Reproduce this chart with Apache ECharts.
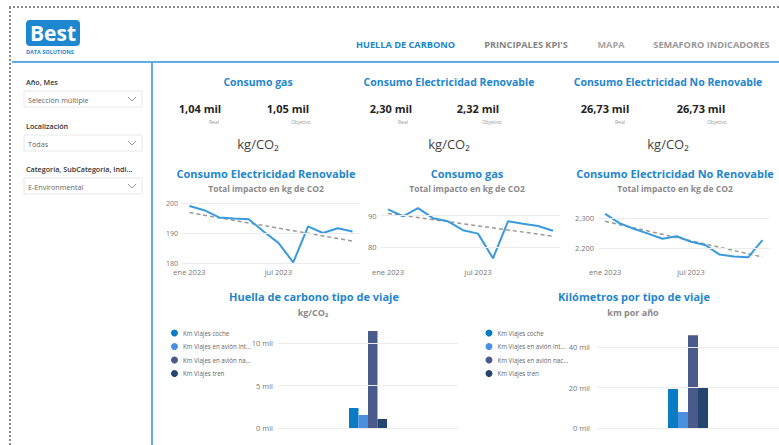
<!DOCTYPE html>
<html><head><meta charset="utf-8">
<script src="https://cdn.jsdelivr.net/npm/echarts@6/dist/echarts.min.js"></script>
<style>html,body{margin:0;padding:0;background:#fff}#c{width:779px;height:445px}</style>
</head><body><div id="c"></div>
<script>
// ---------- data ----------
const months = ['ene 2023','feb 2023','mar 2023','abr 2023','may 2023','jun 2023','jul 2023','ago 2023','sep 2023','oct 2023','nov 2023','dic 2023'];
const xTicks = ['ene 2023','jul 2023'];
const elecRenov = [199.0,197.6,195.2,194.8,194.6,190.5,186.7,180.2,192.2,190.0,191.6,190.5];
const elecRenovTrend = [196.8,187.3];
const elecRenovTicks = [180,190,200];
const gas = [92.0,89.8,92.4,89.2,88.2,85.4,84.3,76.5,88.2,87.4,86.7,85.2];
const gasTrend = [90.7,83.5];
const gasTicks = [80,90];
const elecNoRenov = [2314,2283,2264,2248,2231,2239,2221,2210,2178,2172,2169,2226];
const elecNoRenovTrend = [2289,2170];
const elecNoRenovTicks = [2200,2300];
const tripTypes = ['Km Viajes coche','Km Viajes en avión internacional','Km Viajes en avión nacional','Km Viajes tren'];
const huella = [2350,1530,11400,1060];
const huellaTicks = [0,5000,10000];
const km = [19300,7900,45900,19800];
const kmTicks = [0,20000,40000];
const kpiTitles = ['Consumo gas','Consumo Electricidad Renovable','Consumo Electricidad No Renovable'];
const kpiReal = [1.04,2.30,26.73];      // miles
const kpiTarget = [1.05,2.32,26.73];    // miles
const navItems = ['HUELLA DE CARBONO',"PRINCIPALES KPI'S",'MAPA','SEMAFORO INDICADORES'];
const filterLabels = ['Año, Mes','Localización','Categoría, SubCategoría, Indi...'];
const filterValues = ['Selección múltiple','Todas','E-Environmental'];

// ---------- styling ----------
const FF = '"Open Sans", "Noto Sans", sans-serif';
const BLUE = '#1F86CD';
const LINE = '#3A9BDC';
const tripColors = ['#0A7CC4','#4A8FE0','#4A5A8A','#23456E'];
const fmtThousands = v => String(v).replace(/\B(?=(\d{3})+(?!\d))/g,'.');
const fmtMil = v => v.toFixed(2).replace('.',',') + ' mil';

function T(text, x, y, size, color, weight, align) {
  return {type:'text', silent:true, style:{text, x, y, fill:color, fontSize:size, fontWeight:weight||'normal', fontFamily:FF, align:align||'center', verticalAlign:'middle'}};
}
function L(x1,y1,x2,y2,color,w,dash) {
  return {type:'line', silent:true, shape:{x1,y1,x2,y2}, style:{stroke:color, lineWidth:w, lineDash:dash||null}};
}

const g = [];
// frame
g.push(L(9,7,779,7,'#8a8a8a',2,[2,2]));
g.push(L(10,7,10,445,'#8a8a8a',2,[2,2]));
g.push(L(12,62,779,62,'#5DADE2',2));
g.push(L(152,62,152,445,'#5DADE2',2));
// logo
g.push({type:'rect', silent:true, shape:{x:26,y:20,width:54,height:26,r:4}, style:{fill:'#1D87CF'}});
g.push(T('Best',53,33,21,'#fff','bold'));
g.push(T('DATA SOLUTIONS',26,52,5.5,'#1D87CF','bold','left'));
// nav
const navX = [405.5,526,611,711.5];
const navC = [ '#2186CB','#858585','#a6a6a6','#999999'];
navItems.forEach((t,i)=>g.push(T(t,navX[i],44,9.2,navC[i],'bold')));
// filters
const fY = [82,126,169];
filterLabels.forEach((t,i)=>{
  g.push(T(t,26,fY[i],7.2,'#333','600','left'));
  g.push({type:'rect', silent:true, shape:{x:24,y:fY[i]+9,width:118,height:16}, style:{fill:'#fff', stroke:'#e8e8e8', lineWidth:1}});
  g.push(T(filterValues[i],28,fY[i]+17.5,7.2,'#666','normal','left'));
  g.push({type:'polyline', silent:true, shape:{points:[[128,fY[i]+15],[132,fY[i]+19],[136,fY[i]+15]]}, style:{stroke:'#999', lineWidth:1, fill:null}});
});
// KPI cards
const kpiCx = [258,449,668];
const kpiVx = [[200,288],[391,478],[605,701]];
const kpiLx = [[214,301],[403,492],[620,717]];
kpiTitles.forEach((t,i)=>{
  g.push(T(t,kpiCx[i],82,10.5,BLUE,'bold'));
  g.push(T(fmtMil(kpiReal[i]),kpiVx[i][0],108,11,'#252423','bold'));
  g.push(T(fmtMil(kpiTarget[i]),kpiVx[i][1],108,11,'#252423','bold'));
  g.push(T('Real',kpiLx[i][0],122,5,'#999'));
  g.push(T('Objetivo',kpiLx[i][1],122,5,'#999'));
  g.push(T('kg/CO₂',kpiCx[i],144,13,'#444'));
});
// chart titles
const lineTitles = ['Consumo Electricidad Renovable','Consumo gas','Consumo Electricidad No Renovable'];
const lineTx = [266,467,675];
lineTitles.forEach((t,i)=>{
  g.push(T(t,lineTx[i],173,11,BLUE,'bold'));
  g.push(T('Total impacto en kg de CO2',lineTx[i],188,8.5,'#8a8a8a','bold'));
});
g.push(T('Huella de carbono tipo de viaje',314,296,11,BLUE,'bold'));
g.push(T('kg/CO₂',313,312,9,'#8a8a8a','bold'));
g.push(T('Kilómetros por tipo de viaje',634,296,11,BLUE,'bold'));
g.push(T('km por año',633,312,9,'#8a8a8a','bold'));

// ---------- axes ----------
const grids = [
  {left:182, top:203, width:178, height:60},
  {left:380.5, top:203, width:180, height:60},
  {left:598, top:203, width:171.6, height:60},
  {left:278, top:326, width:180, height:102},
  {left:597, top:327, width:184, height:101}
];
const axLabel = {color:'#777', fontSize:7.5, fontFamily:FF};
const lineX = i => ({gridIndex:i, type:'category', data:months, boundaryGap:true,
  axisLine:{show:false}, axisTick:{show:false}, splitLine:{show:false},
  axisLabel:Object.assign({interval:0, margin:4.5, formatter:v=>xTicks.includes(v)?v:''}, axLabel)});
const lineYdef = [
  {min:180, max:200, interval:10, ticks:elecRenovTicks, f:v=>String(v)},
  {min:75, max:94, interval:5, ticks:gasTicks, f:v=>String(v)},
  {min:2150, max:2350, interval:50, ticks:elecNoRenovTicks, f:fmtThousands}
];
const yAxes = lineYdef.map((d,i)=>({gridIndex:i, type:'value', min:d.min, max:d.max, interval:d.interval,
  axisLine:{show:false}, axisTick:{show:false}, splitLine:{show:false},
  axisLabel:Object.assign({margin:4, formatter:v=>d.ticks.includes(v)?d.f(v):''}, axLabel, i===0?{fontSize:7}:{})}));
yAxes.push({gridIndex:3, type:'value', min:0, max:12000, interval:5000, axisLine:{show:false}, axisTick:{show:false}, splitLine:{show:false},
  axisLabel:Object.assign({margin:5, formatter:v=>huellaTicks.includes(v)?(v/1000)+' mil':''}, axLabel)});
yAxes.push({gridIndex:4, type:'value', min:0, max:50000, interval:10000, axisLine:{show:false}, axisTick:{show:false}, splitLine:{show:false},
  axisLabel:Object.assign({margin:7, formatter:v=>kmTicks.includes(v)?(v/1000)+' mil':''}, axLabel)});
const xAxes = [lineX(0), lineX(1), lineX(2)];
[3,4].forEach(i=>xAxes.push({gridIndex:i, type:'category', data:['2023'], boundaryGap:true,
  axisLine:{show:false}, axisTick:{show:false}, axisLabel:{show:false}, splitLine:{show:false}}));

const gridMark = ticks => ({silent:true, symbol:'none', label:{show:false},
  lineStyle:{color:'#ececec', type:'solid', width:1}, data:ticks.map(t=>({yAxis:t}))});
const trendData = t => months.map((m,i)=> i===0 ? t[0] : (i===months.length-1 ? t[1] : null));

const series = [];
const lineSets = [[elecRenov,elecRenovTrend,elecRenovTicks],[gas,gasTrend,gasTicks],[elecNoRenov,elecNoRenovTrend,elecNoRenovTicks]];
lineSets.forEach((s,i)=>{
  series.push({type:'line', xAxisIndex:i, yAxisIndex:i, data:trendData(s[1]), connectNulls:true, showSymbol:false, silent:true, z:2,
    lineStyle:{color:'#9a9a9a', width:1.5, type:[4,3]}, markLine:gridMark(s[2])});
  series.push({type:'line', xAxisIndex:i, yAxisIndex:i, data:s[0], showSymbol:false, silent:true, z:3,
    lineStyle:{color:LINE, width:2}});
});
[[huella,huellaTicks,3,9.5],[km,kmTicks,4,10]].forEach(([vals,ticks,ax,bw])=>{
  series.push({type:'line', name:'grid'+ax, xAxisIndex:ax, yAxisIndex:ax, data:[], silent:true, z:1, markLine:gridMark(ticks)});
  tripTypes.forEach((t,i)=>series.push({type:'bar', name:t, xAxisIndex:ax, yAxisIndex:ax, data:[vals[i]],
    barWidth:bw, barGap:'0%', z:2, itemStyle:{color:tripColors[i]}}));
});

const legendBase = (left, w) => ({orient:'vertical', left, top:324.5, itemWidth:7, itemHeight:7, itemGap:6.5, icon:'circle',
  selectedMode:false, data:tripTypes, textStyle:{fontSize:6.2, color:'#666', fontFamily:FF, width:w, overflow:'truncate', ellipsis:'...'}});

const chart = echarts.init(document.getElementById('c'), null, {renderer:'svg'});
chart.setOption({
  animation:false,
  color:tripColors,
  grid:grids, xAxis:xAxes, yAxis:yAxes, series,
  legend:[legendBase(166, 70), legendBase(480.5, 72)],
  graphic:g
});
</script></body></html>
